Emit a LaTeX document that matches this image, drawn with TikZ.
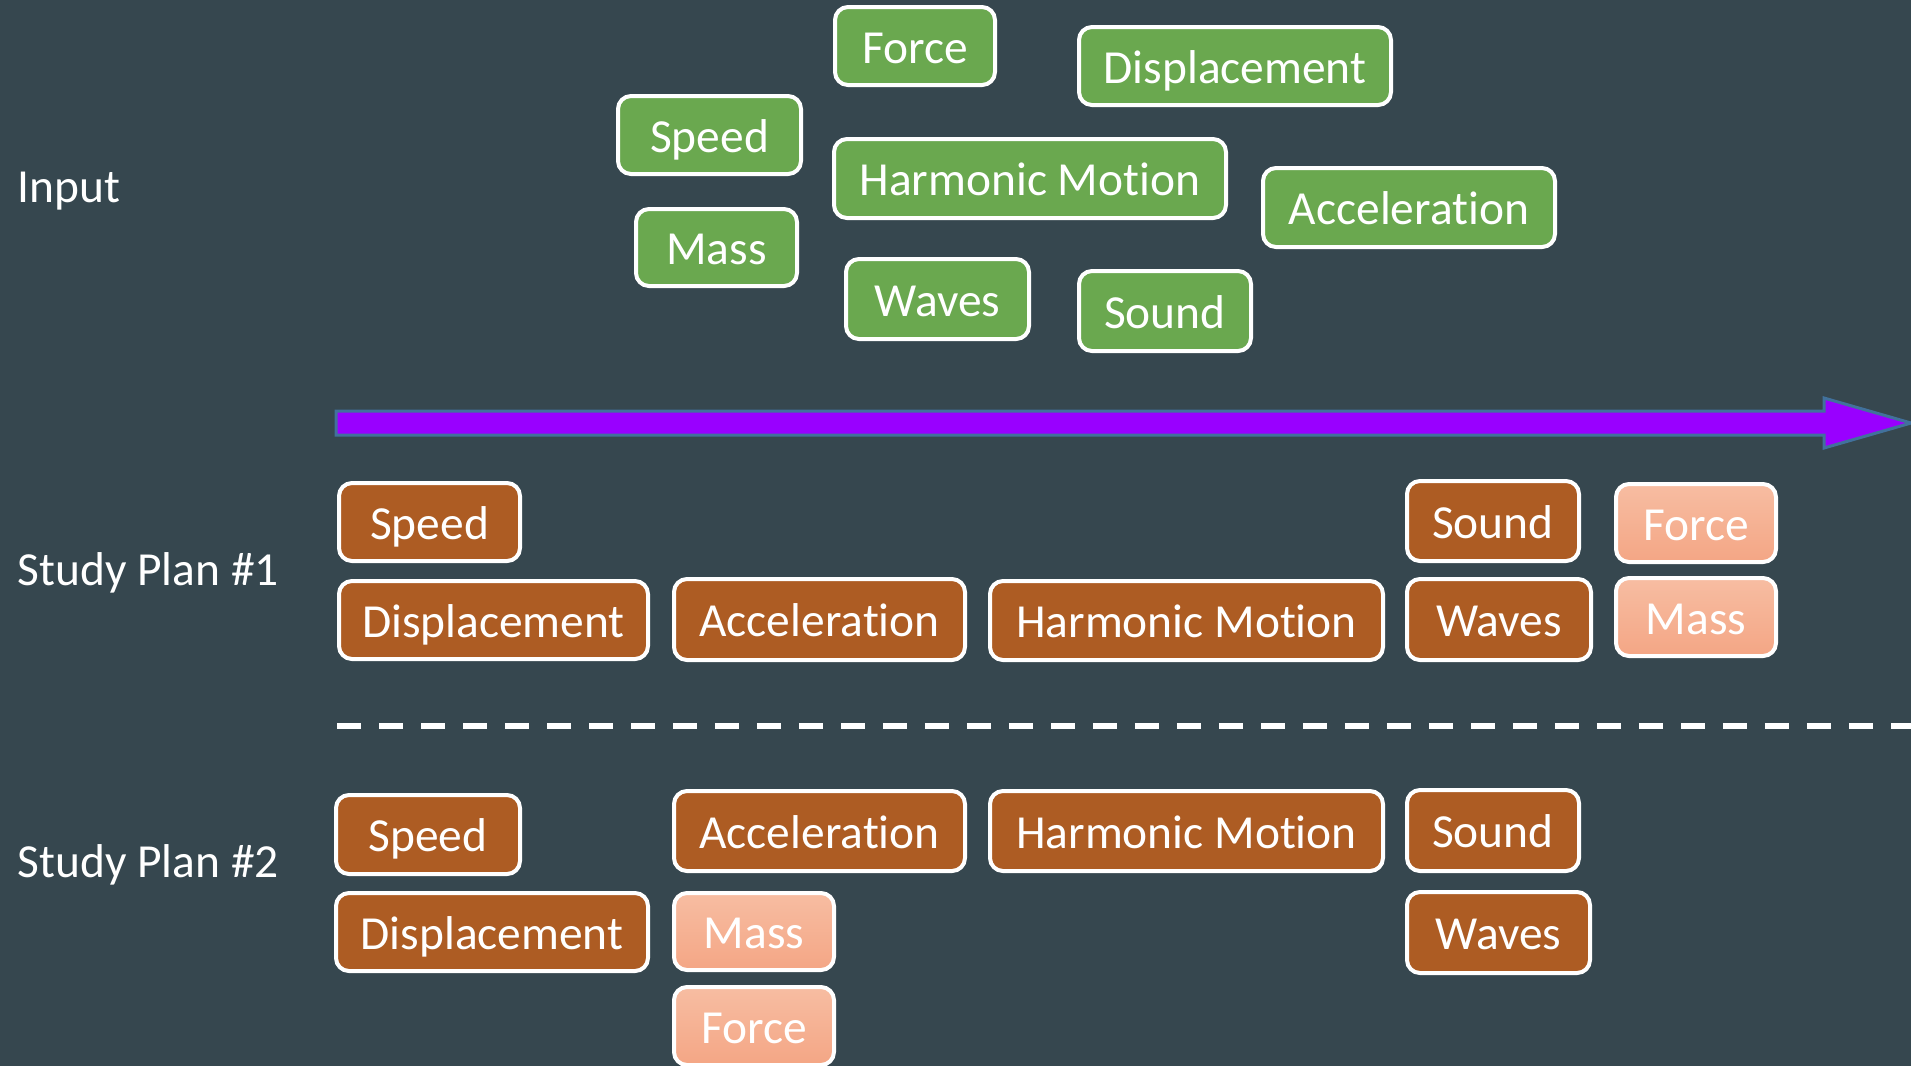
\documentclass[tikz,border=0pt]{standalone}
\usepackage{fontspec}
\setmainfont{Carlito}[Ligatures={NoCommon}]
\definecolor{bgc}{HTML}{36474F}
\definecolor{gfill}{HTML}{6AA84F}
\definecolor{bfill}{HTML}{AD5C23}
\definecolor{ptop}{HTML}{F7BDA2}
\definecolor{pbot}{HTML}{F4A685}
\definecolor{arrfill}{HTML}{9900FF}
\definecolor{arrline}{HTML}{41719C}
\tikzset{
  basebox/.style={rounded corners=1.3mm, draw=white, line width=0.4mm, text=white,
    font=\fontsize{13.5pt}{16pt}\selectfont, text height=4.4mm, text depth=1mm,
    inner sep=0pt, align=center},
  gbox/.style={basebox, fill=gfill},
  bbox/.style={basebox, fill=bfill},
  pbox/.style={basebox, top color=ptop, bottom color=pbot},
  rowlabel/.style={anchor=base west, text=white, font=\fontsize{13.5pt}{16pt}\selectfont, inner sep=0pt},
}
\newcommand\mybox[7]{\node[#2, minimum width=#5mm, minimum height=#6mm] (#1) at (#3,#4) {#7};}
\begin{document}
\begin{tikzpicture}[x=0.1mm, y=-0.1mm]
\useasboundingbox (0,0) rectangle (1911,1066);
\clip (0,0) rectangle (1911,1066);
\fill[bgc] (0,0) rectangle (1911,1066);

% row labels
\node[rowlabel] (lin) at (17,202) {Input};
\node[rowlabel] (lp1) at (17,585) {Study Plan \#1};
\node[rowlabel] (lp2) at (17,877.5) {Study Plan \#2};

% input boxes
\mybox{gForce}{gbox}{915}{46}{16.0}{7.8}{Force}
\mybox{gDisp}{gbox}{1235}{66}{31.2}{7.8}{Displacement}
\mybox{gSpeed}{gbox}{709.5}{135}{18.3}{7.8}{Speed}
\mybox{gHM}{gbox}{1030}{178.5}{39.2}{7.9}{Harmonic Motion}
\mybox{gAcc}{gbox}{1409}{207.5}{29.2}{7.9}{Acceleration}
\mybox{gMass}{gbox}{716.5}{247.5}{16.1}{7.7}{Mass}
\mybox{gWaves}{gbox}{937.5}{299}{18.3}{8.0}{Waves}
\mybox{gSound}{gbox}{1165}{311}{17.2}{8.0}{Sound}

% timeline arrow
\coordinate (a0) at (336,411);
\coordinate (a1) at (1824,411);
\coordinate (a2) at (1824,398);
\coordinate (tip) at (1911,423);
\coordinate (a4) at (1824,448);
\coordinate (a5) at (1824,435);
\coordinate (a6) at (336,435);
\filldraw[fill=arrfill, draw=arrline, line width=0.3mm, line join=miter]
  (a0) -- (a1) -- (a2) -- (tip) -- (a4) -- (a5) -- (a6) -- cycle;

% study plan 1
\mybox{aSpeed}{bbox}{429.5}{522}{18.1}{7.8}{Speed}
\mybox{aDisp}{bbox}{493.5}{620}{30.9}{7.8}{Displacement}
\mybox{aAcc}{bbox}{819.5}{619.5}{29.1}{8.1}{Acceleration}
\mybox{aHM}{bbox}{1186.5}{620.5}{39.3}{7.9}{Harmonic Motion}
\mybox{aSound}{bbox}{1493}{521}{17.2}{8.0}{Sound}
\mybox{aWaves}{bbox}{1499}{619.5}{18.4}{8.1}{Waves}
\mybox{aForce}{pbox}{1696}{523}{16.0}{7.8}{Force}
\mybox{aMass}{pbox}{1696}{617}{16.0}{7.8}{Mass}

% separator
\coordinate (d0) at (337,726);
\coordinate (d1) at (1911,726);
\draw[white, line width=0.55mm, dash pattern=on 2.4mm off 1.8mm] (d0) -- (d1);

% study plan 2
\mybox{bSpeed}{bbox}{428}{834.5}{18.4}{7.9}{Speed}
\mybox{bDisp}{bbox}{492}{932}{31.2}{7.8}{Displacement}
\mybox{bAcc}{bbox}{819.5}{831}{29.1}{8.0}{Acceleration}
\mybox{bHM}{bbox}{1186.5}{831}{39.3}{8.0}{Harmonic Motion}
\mybox{bSound}{bbox}{1493}{830.5}{17.2}{8.1}{Sound}
\mybox{bWaves}{bbox}{1498.5}{932.5}{18.3}{8.1}{Waves}
\mybox{bMass}{pbox}{754}{931.5}{16.0}{7.7}{Mass}
\mybox{bForce}{pbox}{754}{1026}{16.0}{7.8}{Force}
\end{tikzpicture}
\end{document}
